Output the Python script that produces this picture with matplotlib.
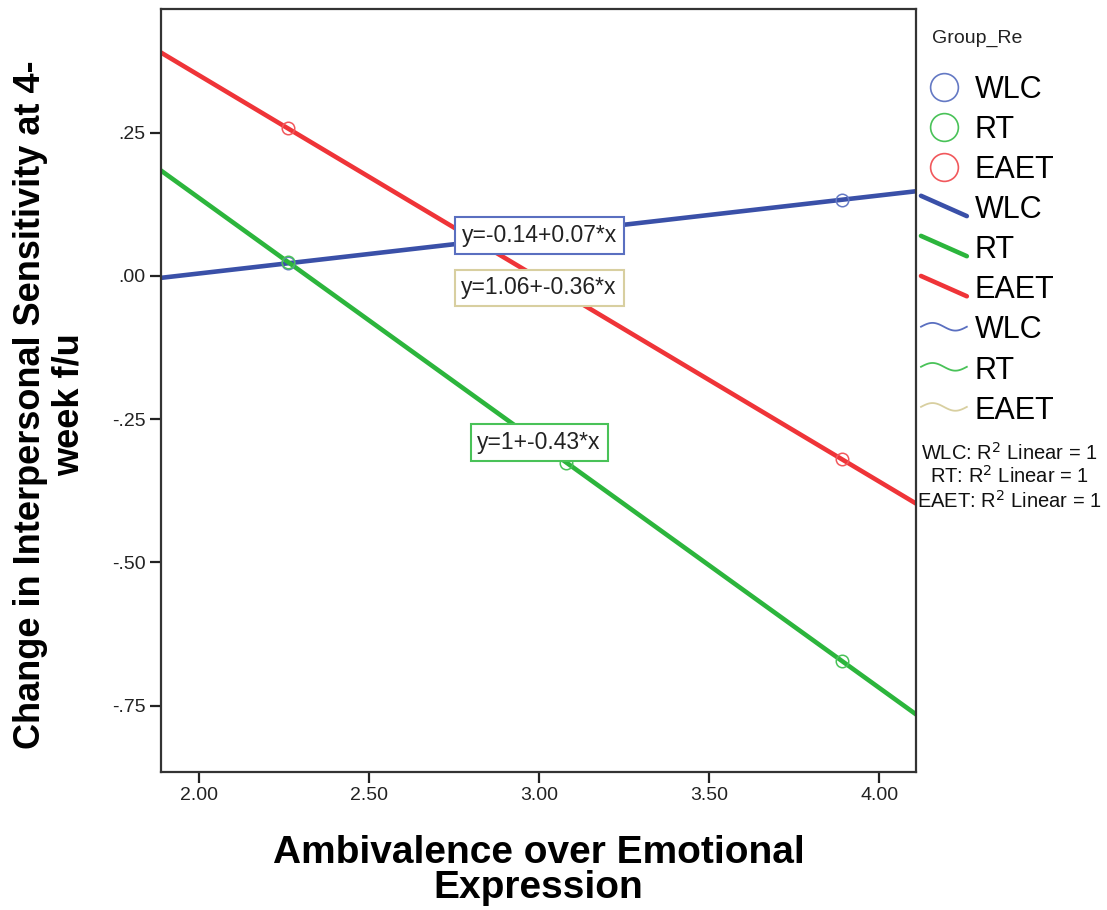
import numpy as np
import matplotlib
matplotlib.use("Agg")
from matplotlib import pyplot as plt
from matplotlib.lines import Line2D
from matplotlib.legend_handler import HandlerBase

plt.rcParams['font.family'] = ['Liberation Sans', 'DejaVu Sans']

# data
groups = ["WLC", "RT", "EAET"]
wlc_x = [2.26, 3.89]
wlc_y = [0.022, 0.133]
rt_x = [2.26, 3.08, 3.89]
rt_y = [0.025, -0.326, -0.672]
eaet_x = [2.26, 3.89]
eaet_y = [0.258, -0.320]
fit_labels = ["y=-0.14+0.07*x", "y=1+-0.43*x", "y=1.06+-0.36*x"]
x_ticks = [2.0, 2.5, 3.0, 3.5, 4.0]
x_ticklabels = ["2.00", "2.50", "3.00", "3.50", "4.00"]
y_ticks = [0.25, 0.0, -0.25, -0.50, -0.75]
y_ticklabels = [".25", ".00", "-.25", "-.50", "-.75"]

line_cols = ["#3a50a8", "#2cb53c", "#ef3438"]
dot_cols = ["#6479c4", "#49c258", "#f1585c"]
box_cols = ["#5a6fc0", "#49c258", "#d8cfa0"]   # SPSS gives EAET a khaki label box
wave_cols = ["#5a6fc0", "#49c258", "#d8cfa0"]

xs = [wlc_x, rt_x, eaet_x]
ys = [wlc_y, rt_y, eaet_y]

fig = plt.figure(figsize=(11.07, 9.10), dpi=100)
ax = fig.add_axes([161 / 1107, 138 / 910, 755 / 1107, 763 / 910])
xlim = (1.888, 4.108)
ax.set_xlim(*xlim)
ax.set_ylim(-0.866, 0.466)

# fit lines over the whole x range + points
xx = np.array(xlim)
for i in range(3):
    b, a = np.polyfit(xs[i], ys[i], 1)
    ax.plot(xx, a + b * xx, color=line_cols[i], lw=3.3, zorder=2)
    ax.plot(xs[i], ys[i], 'o', ms=9, mfc='none', mec=dot_cols[i], mew=1.1, zorder=3)

# equation labels (WLC, RT, EAET)
lab_pos = [(3.0, 0.070), (3.0, -0.291), (3.0, -0.021)]
for i in range(3):
    ax.text(lab_pos[i][0], lab_pos[i][1], fit_labels[i], fontsize=16.5, ha='center', va='center',
            color='#222222', zorder=5,
            bbox=dict(boxstyle='square,pad=0.3', fc='white', ec=box_cols[i], lw=1.5))

ax.set_xticks(x_ticks)
ax.set_xticklabels(x_ticklabels)
ax.set_yticks(y_ticks)
ax.set_yticklabels(y_ticklabels)
ax.tick_params(direction='out', length=8, width=1.6, labelsize=14, colors='#222222', pad=3)
for s in ax.spines.values():
    s.set_color('#333333')
    s.set_linewidth(1.6)

ax.set_xlabel("Ambivalence over Emotional\nExpression", fontsize=28, fontweight='bold',
              linespacing=0.97)
ax.xaxis.set_label_coords(0.5, -0.083)
ax.set_ylabel("Change in Interpersonal Sensitivity at 4-\nweek f/u", fontsize=26,
              fontweight='bold', linespacing=1.15)
ax.yaxis.set_label_coords(-0.098, 0.482)


# legend handlers: SPSS style diagonal line and little wave
class DiagHandler(HandlerBase):
    def create_artists(self, legend, orig_handle, xdescent, ydescent, width, height, fontsize, trans):
        ln = Line2D([-xdescent, width - xdescent], [height * 1.05 - ydescent, height * 0.1 - ydescent],
                    color=orig_handle.get_color(), lw=orig_handle.get_linewidth(), solid_capstyle='round')
        ln.set_transform(trans)
        return [ln]


class WaveHandler(HandlerBase):
    def create_artists(self, legend, orig_handle, xdescent, ydescent, width, height, fontsize, trans):
        t = np.linspace(0, 1, 40)
        ln = Line2D(t * width - xdescent, height * 0.55 - ydescent + height * 0.18 * np.sin(2 * np.pi * t),
                    color=orig_handle.get_color(), lw=orig_handle.get_linewidth())
        ln.set_transform(trans)
        return [ln]


handles = []
labels = []
hmap = {}
for i in range(3):
    handles.append(Line2D([], [], marker='o', ls='none', ms=20, mfc='none', mec=dot_cols[i], mew=1.2))
    labels.append(groups[i])
for i in range(3):
    h = Line2D([], [], color=line_cols[i], lw=3.3)
    hmap[h] = DiagHandler()
    handles.append(h)
    labels.append(groups[i])
for i in range(3):
    h = Line2D([], [], color=wave_cols[i], lw=1.3)
    hmap[h] = WaveHandler()
    handles.append(h)
    labels.append(groups[i])

fig.legend(handles, labels, handler_map=hmap, loc='upper left', bbox_to_anchor=(921 / 1107, 1 - 75 / 910),
           frameon=False, fontsize=22, borderpad=0, borderaxespad=0, handlelength=1.5,
           handletextpad=0.25, labelspacing=0.33)
fig.text(932 / 1107, 1 - 38 / 910, "Group_Re", fontsize=14, ha='left', va='center', color='#222222')

r2_y = [453, 476, 501]
for i in range(3):
    fig.text(1009 / 1107, 1 - r2_y[i] / 910, groups[i] + ": R$^2$ Linear = 1", fontsize=14.5,
             ha='center', va='center', color='#111111')

fig.savefig("out.png", dpi=100)
